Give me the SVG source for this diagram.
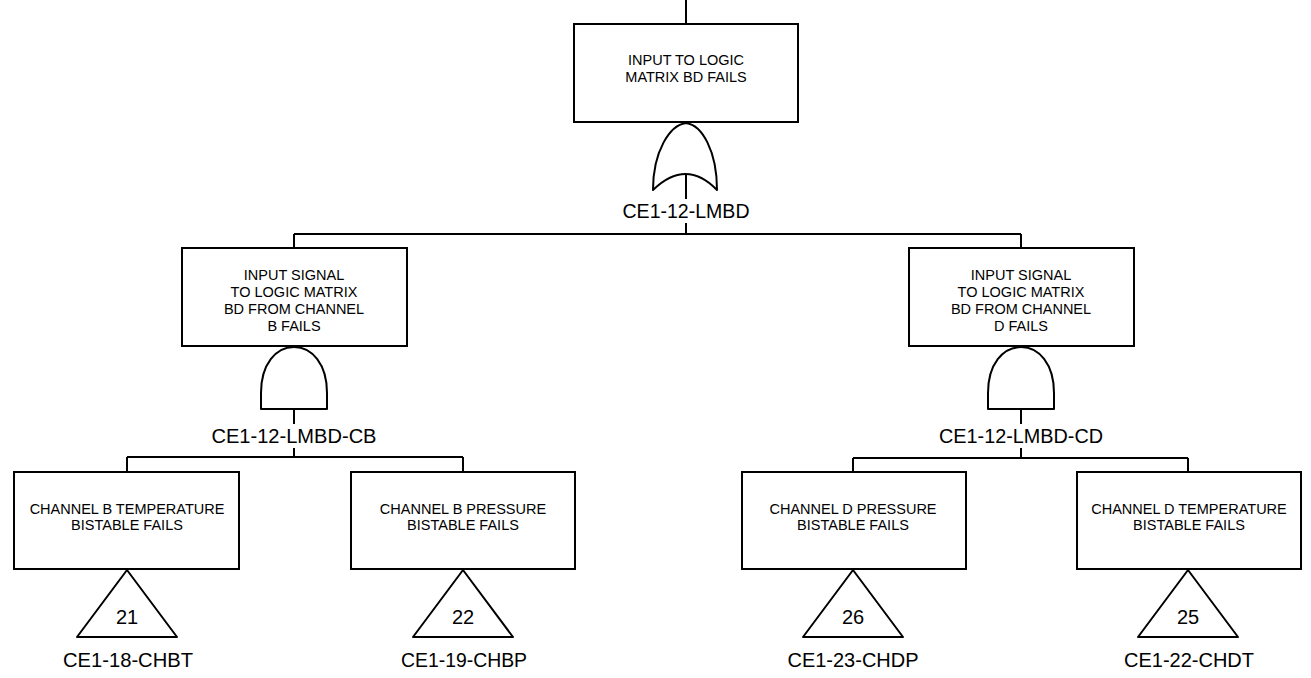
<svg xmlns="http://www.w3.org/2000/svg" width="1311" height="678" viewBox="0 0 1311 678">
<style>
.box{fill:#fff;stroke:#000;stroke-width:2}
.gate{fill:#fff;stroke:#000;stroke-width:2;stroke-linejoin:round}
.ln{fill:none;stroke:#000;stroke-width:2}
.t{font-family:"Liberation Sans",Arial,sans-serif;font-size:14.5px;text-anchor:middle;fill:#000}
.lb{font-family:"Liberation Sans",Arial,sans-serif;font-size:19.5px;text-anchor:middle;fill:#000}
.num{font-family:"Liberation Sans",Arial,sans-serif;font-size:20px;text-anchor:middle;fill:#000}
</style>
<rect width="1311" height="678" fill="#fff"/>
<g id="connectors">
<path class="ln" d="M686,0 V24"/>
<path class="ln" d="M686,174 V199"/>
<path class="ln" d="M686,223 V234"/>
<path class="ln" d="M294,234 H1021"/>
<path class="ln" d="M294,234 V248"/>
<path class="ln" d="M1021,234 V248"/>
<path class="ln" d="M294,409 V424"/>
<path class="ln" d="M294,448 V457"/>
<path class="ln" d="M127,457 H463"/>
<path class="ln" d="M127,457 V472"/>
<path class="ln" d="M463,457 V472"/>
<path class="ln" d="M1021,409 V424"/>
<path class="ln" d="M1021,448 V458"/>
<path class="ln" d="M853,458 H1188"/>
<path class="ln" d="M853,458 V472"/>
<path class="ln" d="M1188,458 V472"/>
</g>
<g id="n-top">
<rect class="box" x="574" y="24" width="224" height="98"/>
<text class="t" x="686" y="65">INPUT TO LOGIC</text>
<text class="t" x="686" y="82">MATRIX BD FAILS</text>
<path class="gate" d="M653,190 C653,151 670,125 686,123 C702,125 717,151 717,190 Q686,158 653,190 Z"/>
<text class="lb" x="686" y="218" textLength="127" lengthAdjust="spacingAndGlyphs">CE1-12-LMBD</text>
</g>
<g id="n-cb">
<rect class="box" x="182" y="248" width="225" height="98"/>
<text class="t" x="294" y="280">INPUT SIGNAL</text>
<text class="t" x="294" y="297">TO LOGIC MATRIX</text>
<text class="t" x="294" y="314">BD FROM CHANNEL</text>
<text class="t" x="294" y="331">B FAILS</text>
<path class="gate" d="M261,409 L261,393 C261,364 276,347 294,347 C312,347 327,364 327,393 L327,409 Z"/>
<text class="lb" x="294" y="443" textLength="165" lengthAdjust="spacingAndGlyphs">CE1-12-LMBD-CB</text>
</g>
<g id="n-cd">
<rect class="box" x="909" y="248" width="225" height="98"/>
<text class="t" x="1021" y="280">INPUT SIGNAL</text>
<text class="t" x="1021" y="297">TO LOGIC MATRIX</text>
<text class="t" x="1021" y="314">BD FROM CHANNEL</text>
<text class="t" x="1021" y="331">D FAILS</text>
<path class="gate" d="M988,409 L988,393 C988,364 1003,347 1021,347 C1039,347 1054,364 1054,393 L1054,409 Z"/>
<text class="lb" x="1021" y="443" textLength="164" lengthAdjust="spacingAndGlyphs">CE1-12-LMBD-CD</text>
</g>
<g id="n-chbt">
<rect class="box" x="14" y="472" width="225" height="97"/>
<text class="t" x="127" y="514">CHANNEL B TEMPERATURE</text>
<text class="t" x="127" y="530">BISTABLE FAILS</text>
<path class="gate" d="M127,570 L177,637 L77,637 Z"/>
<text class="num" x="127" y="624">21</text>
<text class="lb" x="128" y="667" textLength="130" lengthAdjust="spacingAndGlyphs">CE1-18-CHBT</text>
</g>
<g id="n-chbp">
<rect class="box" x="351" y="472" width="224" height="97"/>
<text class="t" x="463" y="514">CHANNEL B PRESSURE</text>
<text class="t" x="463" y="530">BISTABLE FAILS</text>
<path class="gate" d="M463,570 L513,637 L413,637 Z"/>
<text class="num" x="463" y="624">22</text>
<text class="lb" x="464" y="667" textLength="126" lengthAdjust="spacingAndGlyphs">CE1-19-CHBP</text>
</g>
<g id="n-chdp">
<rect class="box" x="742" y="472" width="224" height="97"/>
<text class="t" x="853" y="514">CHANNEL D PRESSURE</text>
<text class="t" x="853" y="530">BISTABLE FAILS</text>
<path class="gate" d="M853,570 L903,637 L803,637 Z"/>
<text class="num" x="853" y="624">26</text>
<text class="lb" x="853" y="667" textLength="131" lengthAdjust="spacingAndGlyphs">CE1-23-CHDP</text>
</g>
<g id="n-chdt">
<rect class="box" x="1077" y="472" width="224" height="97"/>
<text class="t" x="1189" y="514">CHANNEL D TEMPERATURE</text>
<text class="t" x="1189" y="530">BISTABLE FAILS</text>
<path class="gate" d="M1188,570 L1238,637 L1138,637 Z"/>
<text class="num" x="1188" y="624">25</text>
<text class="lb" x="1189" y="667" textLength="130" lengthAdjust="spacingAndGlyphs">CE1-22-CHDT</text>
</g>
</svg>
